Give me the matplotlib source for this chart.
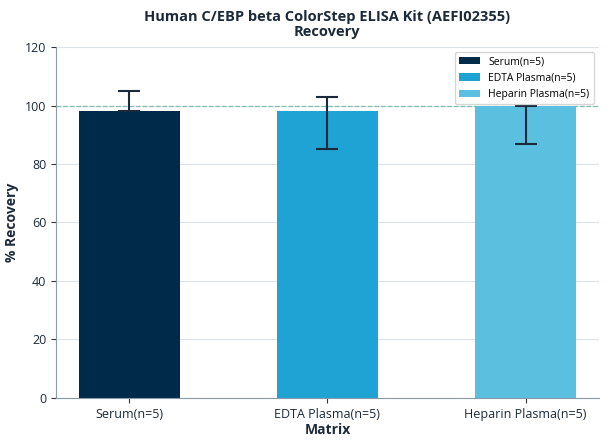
import matplotlib
matplotlib.use("Agg")
import matplotlib.pyplot as plt

plt.rcParams['font.family'] = ['Open Sans', 'DejaVu Sans']

categories = ["Serum(n=5)", "EDTA Plasma(n=5)", "Heparin Plasma(n=5)"]
means = [98, 98, 100]
err_low = [0, 13, 13]
err_high = [7, 5, 0]
colors = ["#002A4A", "#1FA3D4", "#5BBFE0"]
yticks = [0, 20, 40, 60, 80, 100, 120]

fig = plt.figure(figsize=(6.08, 4.44), dpi=100)
ax = fig.add_axes([0.092, 0.104, 0.893, 0.79])
x = range(len(categories))
for i in x:
    ax.bar(i, means[i], width=0.51, color=colors[i], label=categories[i], zorder=2)
ax.errorbar(list(x), means, yerr=[err_low, err_high], fmt='none', ecolor="#1B2A3A",
            elinewidth=1.5, capsize=8, capthick=1.5, zorder=3)
ax.axhline(100, color="#7FBFB0", linestyle='--', linewidth=0.9, zorder=1)
ax.set_ylim(0, 120)
ax.set_xlim(-0.37, 2.37)
ax.set_yticks(yticks)
ax.set_xticks(list(x))
ax.set_xticklabels(categories)
ax.grid(axis='y', color="#DDE3EA", linewidth=0.8, zorder=0)
ax.set_axisbelow(True)
for s in ['top', 'right']:
    ax.spines[s].set_visible(False)
for s in ['left', 'bottom']:
    ax.spines[s].set_color("#8899AA")
ax.tick_params(colors="#333333", labelsize=9)
for lbl in ax.get_xticklabels() + ax.get_yticklabels():
    lbl.set_color("#1B2A3A")
ax.set_xlabel("Matrix", fontsize=10, fontweight='bold', color="#1B2A3A", labelpad=2)
ax.set_ylabel("% Recovery", fontsize=10, fontweight='bold', color="#1B2A3A")
ax.set_title("Human C/EBP beta ColorStep ELISA Kit (AEFI02355)\nRecovery", fontsize=10.5,
             fontweight='bold', color="#1B2A3A", pad=8, linespacing=1.1)
ax.legend(loc='upper right', fontsize=7.5, frameon=True, edgecolor="#CCCCCC")
fig.savefig("out.png", dpi=100)
